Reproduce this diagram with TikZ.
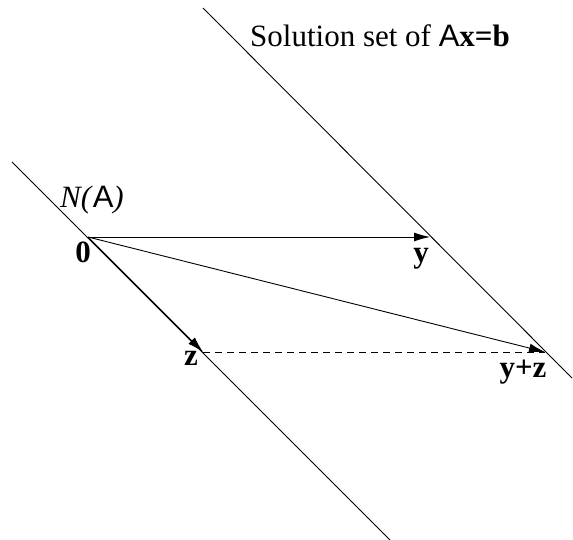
\documentclass[tikz,border=0pt]{standalone}
\usepackage{fontspec}
\setmainfont{Liberation Serif}
\newfontfamily\sfA{Liberation Sans}
\usetikzlibrary{arrows.meta}
\tikzset{
  sline/.style={line width=0.9pt},
  vec/.style={-{Latex[length=16pt,width=9pt]},line width=0.9pt},
  dline/.style={dash pattern=on 7pt off 5pt,line width=0.8pt},
  lbl/.style={font=\fontsize{31}{37}\selectfont\bfseries,inner sep=0pt,anchor=base},
  ttl/.style={font=\fontsize{31}{37}\selectfont,inner sep=0pt,anchor=base west},
}

\begin{document}
\begin{tikzpicture}[x=1pt,y=-1pt]
  \useasboundingbox (0,0) rectangle (573,540);
  % the two parallel lines
  \coordinate (nA) at (12,162);
  \coordinate (nB) at (390,540);
  \coordinate (sA) at (203,8);
  \coordinate (sB) at (572,378);
  \draw[sline] (nA) -- (nB);
  \draw[sline] (sA) -- (sB);
  % points
  \coordinate (O) at (88,237);
  \coordinate (Y) at (430,237);
  \coordinate (Z) at (203,352);
  \coordinate (YZ) at (545,352);
  % vectors
  \draw[vec] (O) -- (Y);
  \draw[vec] (O) -- (Z);
  \draw[vec] (O) -- (YZ);
  \draw[dline] (Z) -- (YZ);
  % labels
  \node[ttl] (title) at (250,47) {Solution set of {\sfA A}\textbf{x=b}};
  \node[ttl] (null) at (60,208) {\textit{N(}{\sfA A}\textit{)}};
  \node[lbl] (l0) at (83,262) {0};
  \node[lbl] (ly) at (421,262) {y};
  \node[lbl] (lz) at (191,365) {z};
  \node[lbl] (lyz) at (523,377) {y+z};
\end{tikzpicture}
\end{document}
